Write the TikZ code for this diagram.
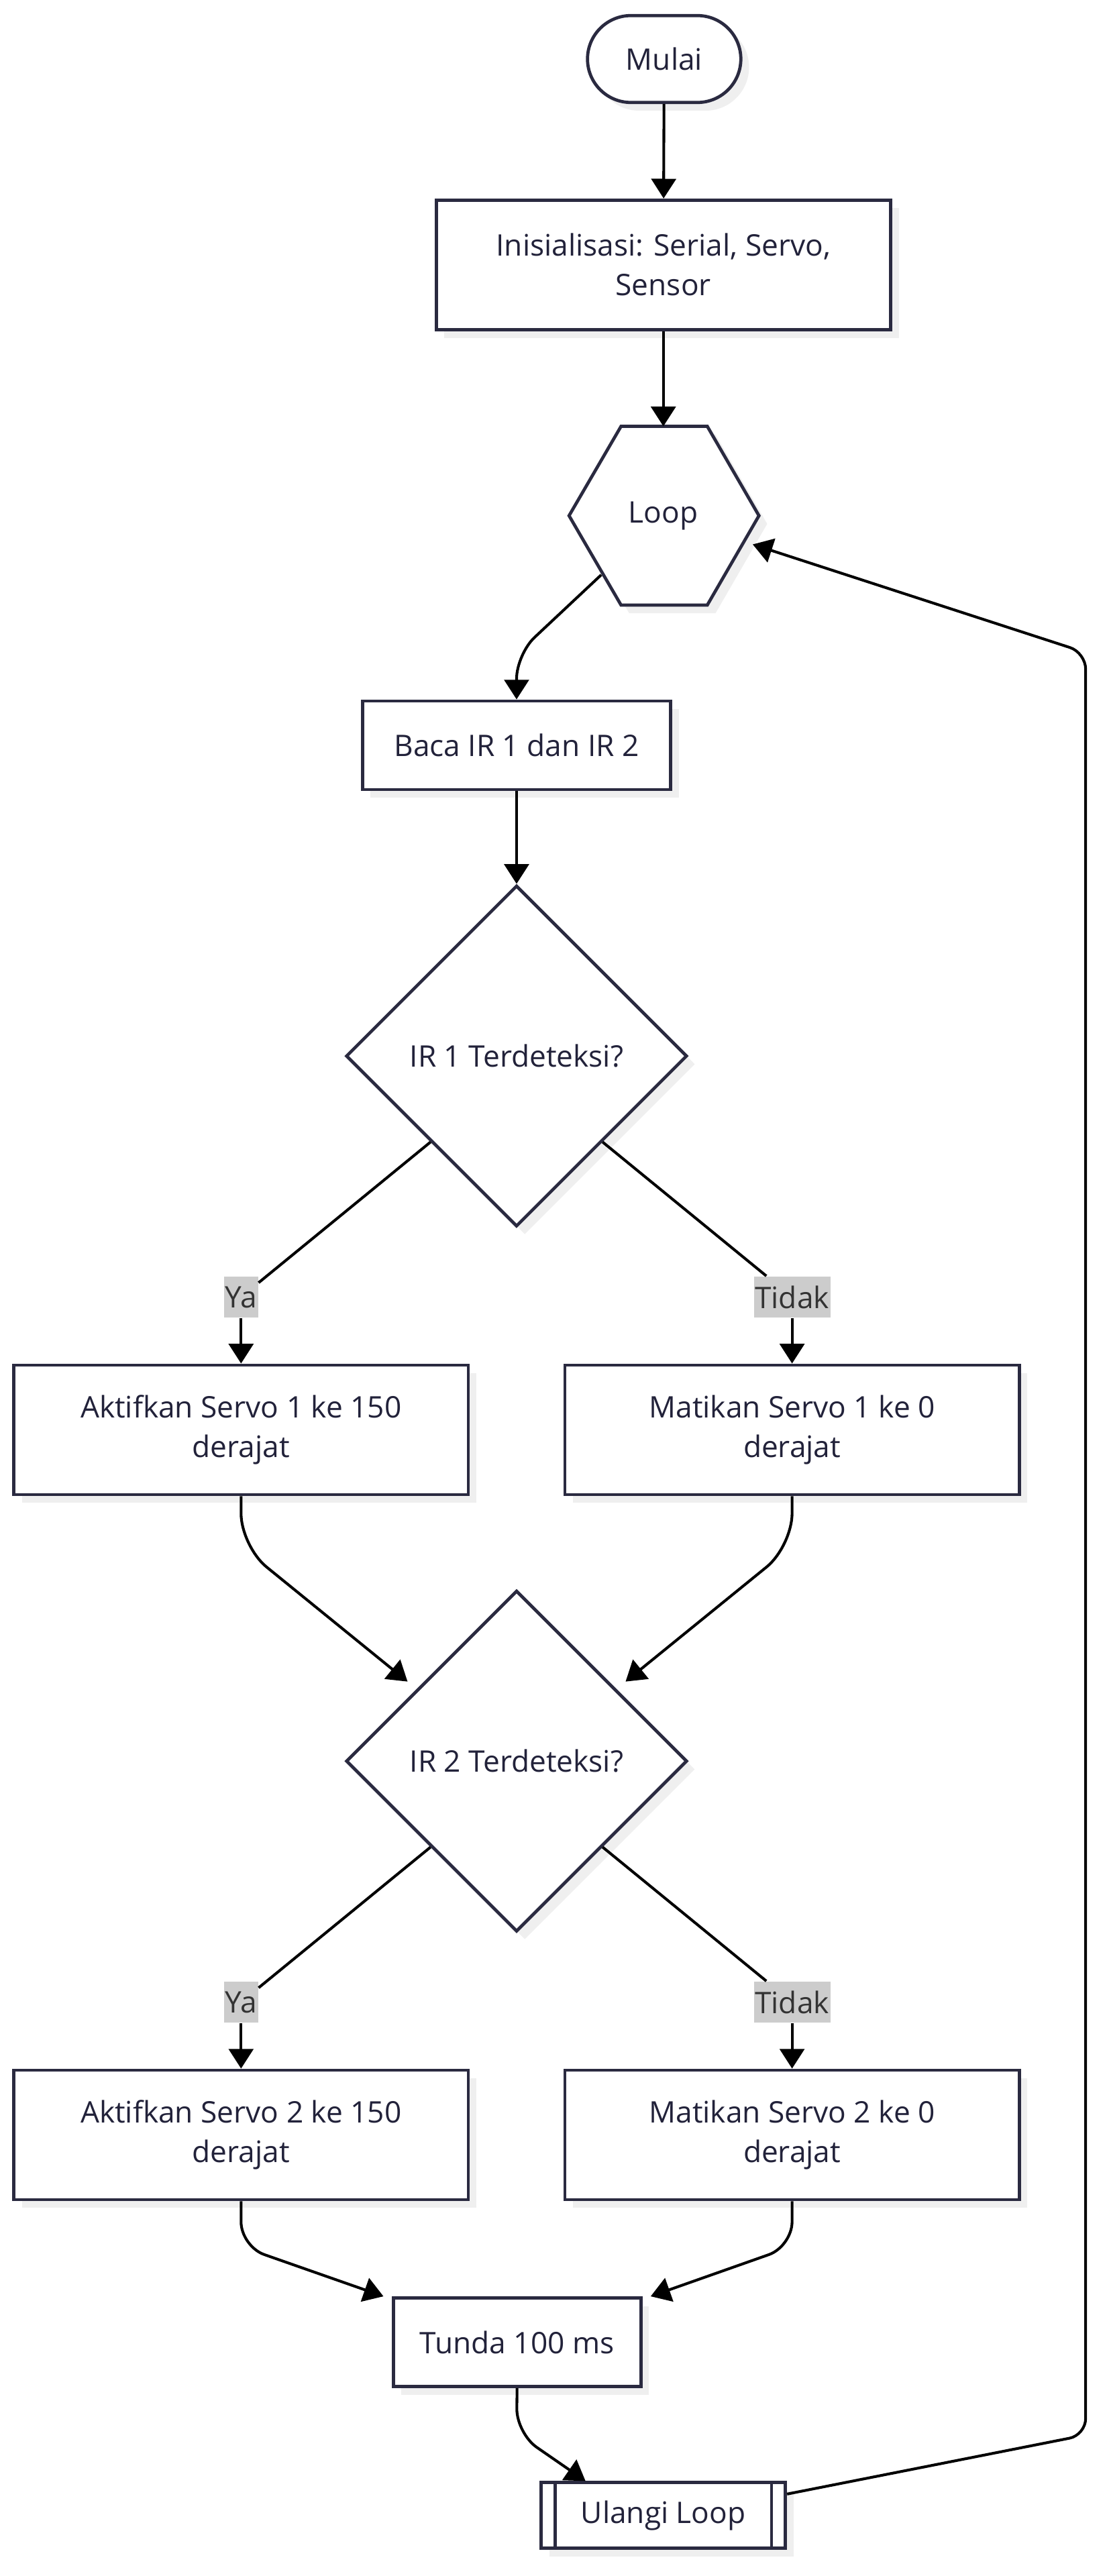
\documentclass[tikz,border=0pt]{standalone}
\usepackage{fontspec}
\setmainfont{Open Sans}
\usetikzlibrary{shapes.geometric,arrows.meta,shadows,calc}

\definecolor{nodeline}{HTML}{2A2A40}
\definecolor{nodetext}{HTML}{22223A}
\definecolor{labelgray}{HTML}{CCCCCC}
\definecolor{labeltext}{HTML}{333333}
\definecolor{shadowgray}{HTML}{EFEFEF}

\begin{document}
\begin{tikzpicture}[x=0.2mm, y=-0.2mm,
    font=\fontsize{10.3pt}{13.7pt}\selectfont,
    base/.style={draw=nodeline, line width=1.1pt, fill=white, text=nodetext,
      align=center, inner sep=0pt,
      drop shadow={shadow xshift=1mm, shadow yshift=-1mm, fill=shadowgray, opacity=1}},
    box/.style={base, rectangle, minimum width=55.4mm, minimum height=15.8mm},
    smallbox/.style={base, rectangle, minimum height=10.8mm},
    decision/.style={base, diamond, aspect=1, minimum width=41.6mm, minimum height=41.6mm},
    terminal/.style={base, rectangle, rounded corners=5.3mm, minimum width=18.7mm, minimum height=10.6mm},
    lbl/.style={fill=labelgray, text=labeltext, inner xsep=0.4pt, inner ysep=0pt,
      minimum height=5mm},
    line/.style={line width=0.95pt, black},
    flow/.style={line, -{Triangle[length=2.4mm, width=3mm]}}]

    \path [fill=white] (0,0) rectangle (675,1571);
    \useasboundingbox (0,0) rectangle (675,1571);

    \node [terminal] (mulai) at (405,36) {Mulai};
    \node [box] (init) at (404.5,161.5) {Inisialisasi: Serial, Servo,\\Sensor};

    \draw [base] (347,314.5) -- (378.7,260) -- (431.3,260) -- (462.8,314.5)
      -- (431.3,369) -- (378.7,369) -- cycle;
    \node [text=nodetext] (loop) at (404.5,314.5) {Loop};
    \coordinate (looptop) at (404.5,260);
    \coordinate (loopout) at (366.6,350.6);
    \coordinate (loopin) at (459,332);

    \node [smallbox, minimum width=37.6mm] (baca) at (315,454.5) {Baca IR 1 dan IR 2};
    \node [decision] (ir1) at (315,644) {IR 1 Terdeteksi?};

    \node [lbl] (ya1) at (147,791) {Ya};
    \node [lbl] (tidak1) at (483,791) {Tidak};
    \node [box] (a1) at (147,872) {Aktifkan Servo 1 ke 150\\derajat};
    \node [box] (m1) at (483,872) {Matikan Servo 1 ke 0\\derajat};

    \node [decision] (ir2) at (315,1074) {IR 2 Terdeteksi?};

    \node [lbl] (ya2) at (147,1221) {Ya};
    \node [lbl] (tidak2) at (483,1221) {Tidak};
    \node [box] (a2) at (147,1302) {Aktifkan Servo 2 ke 150\\derajat};
    \node [box] (m2) at (483,1302) {Matikan Servo 2 ke 0\\derajat};

    \node [smallbox, minimum width=30.2mm] (tunda) at (315.3,1428.4) {Tunda 100 ms};
    \node [smallbox, minimum width=29.8mm, minimum height=8mm] (ulangi) at (404.5,1534) {Ulangi Loop};
    \draw [nodeline, line width=1.1pt] ([xshift=1.9mm]ulangi.north west) -- ([xshift=1.9mm]ulangi.south west);
    \draw [nodeline, line width=1.1pt] ([xshift=-1.9mm]ulangi.north east) -- ([xshift=-1.9mm]ulangi.south east);

    \draw [flow] (mulai) -- (init);
    \draw [flow] (init) -- (looptop);
    \draw [flow, rounded corners=3mm] (loopout) -- (315,399) -- (baca);
    \draw [flow] (baca) -- (ir1);

    \draw [line] (ir1.south west) -- (ya1);
    \draw [flow] (ya1) -- (a1);
    \draw [line] (ir1.south east) -- (tidak1);
    \draw [flow] (tidak1) -- (m1);

    \draw [flow, rounded corners=4mm] (a1.south) -- (147,943) -- ($(ir2.north west)+(-14,4)$);
    \draw [flow, rounded corners=4mm] (m1.south) -- (483,943) -- ($(ir2.north east)+(14,4)$);

    \draw [line] (ir2.south west) -- (ya2);
    \draw [flow] (ya2) -- (a2);
    \draw [line] (ir2.south east) -- (tidak2);
    \draw [flow] (tidak2) -- (m2);

    \draw [flow, rounded corners=3mm] (a2.south) -- (147,1370) -- ($(tunda.north west)+(-5,0)$);
    \draw [flow, rounded corners=3mm] (m2.south) -- (483,1370) -- ($(tunda.north east)+(5,0)$);
    \draw [flow, rounded corners=3mm] (tunda.south) -- (315,1484) -- ($(ulangi.north west)+(28,0)$);

    \draw [flow, rounded corners=2mm] ($(ulangi.east)+(0,-13)$) -- (662,1485) -- (662,398) -- (loopin);
\end{tikzpicture}
\end{document}
